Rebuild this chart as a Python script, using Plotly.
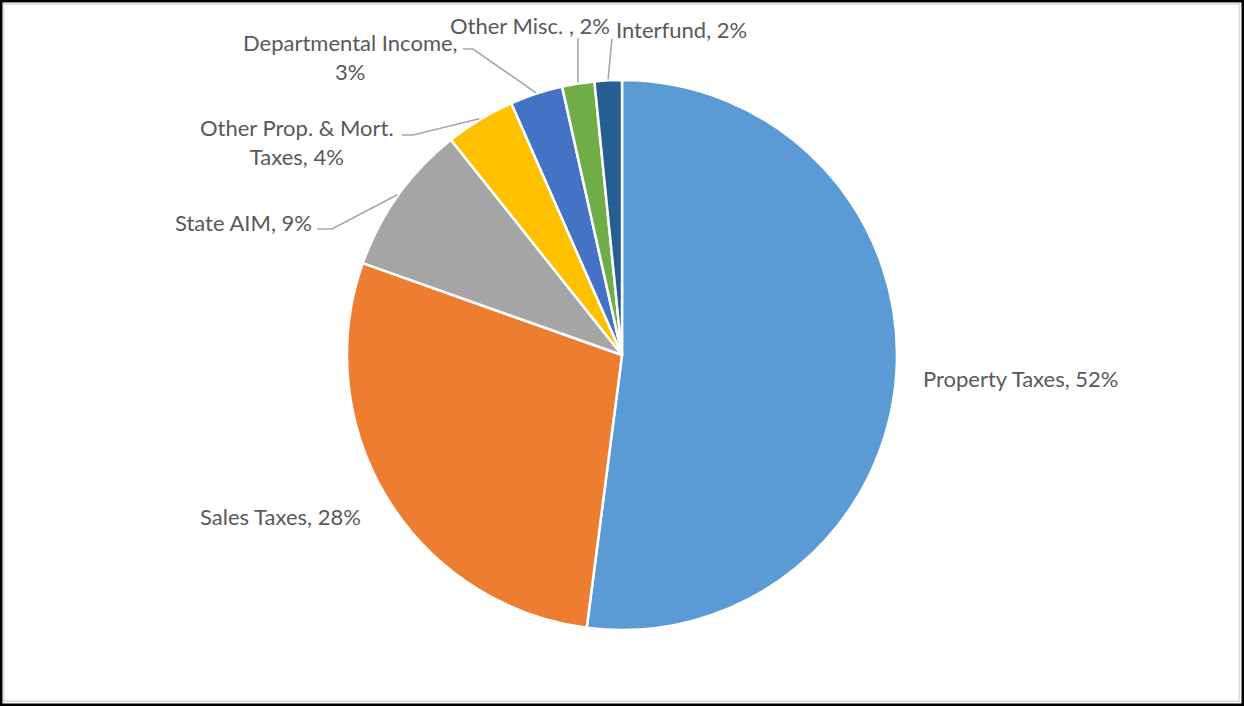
import math
import plotly.graph_objects as go

# Revenue sources, clockwise from 12 o'clock
categories = [
    "Property Taxes",
    "Sales Taxes",
    "State AIM",
    "Other Prop. & Mort. Taxes",
    "Departmental Income",
    "Other Misc. ",
    "Interfund",
]
shares = [52.1, 28.4, 8.9, 4.1, 3.1, 1.9, 1.6]
slice_colors = ["#5B9BD5", "#ED7D31", "#A5A5A5", "#FFC000", "#4472C4", "#70AD47", "#255E91"]

# ---- canvas / pie geometry (pixels) ----
W, H = 1244, 706
CX, CY, R = 622, 355, 275

TEXT_COLOR = "#595959"
LEADER_COLOR = "#A6A6A6"
FONT = dict(family="Lato, 'Open Sans', sans-serif", size=22, color=TEXT_COLOR)

# Label placement: anchor point, alignment, optional line break, and the
# elbow points of the leader line (the pie end is derived from the data).
label_place = {
    "Property Taxes": dict(x=921, y=378, xanchor="left"),
    "Sales Taxes": dict(x=363, y=516, xanchor="right"),
    "State AIM": dict(x=314, y=222, xanchor="right",
                      leader=[(317, 229), (332, 229)]),
    "Other Prop. & Mort. Taxes": dict(x=297, y=142, xanchor="center",
                                      wrap="Other Prop. & Mort.<br>Taxes",
                                      leader=[(402, 135), (413, 135)]),
    "Departmental Income": dict(x=350, y=57, xanchor="center", break_value=True,
                                leader=[(463, 49), (473, 49)]),
    "Other Misc. ": dict(x=612, y=25, xanchor="right",
                         leader=[(578, 38)]),
    "Interfund": dict(x=614, y=29, xanchor="left",
                      leader=[(612, 39)]),
}

total = sum(shares)

fig = go.Figure()

# invisible pixel-space axes used for labels, leaders and the frame
fig.add_trace(go.Scatter(x=[0, W], y=[0, H], mode="markers",
                         marker=dict(opacity=0), hoverinfo="skip", showlegend=False))

fig.add_trace(go.Pie(
    labels=categories,
    values=shares,
    sort=False,
    direction="clockwise",
    rotation=0,
    textinfo="none",
    hoverinfo="label+percent",
    showlegend=False,
    marker=dict(colors=slice_colors, line=dict(color="white", width=2.5)),
    domain=dict(x=[(CX - R) / W, (CX + R) / W],
                y=[(H - CY - R) / H, (H - CY + R) / H]),
))

shapes = []
annotations = []
cum = 0.0
for cat, v in zip(categories, shares):
    mid = (cum + v / 2) / total
    cum += v
    theta = 2 * math.pi * mid
    edge = (CX + (R + 1) * math.sin(theta), CY - (R + 1) * math.cos(theta))
    pct = round(v / total * 100)
    spec = label_place[cat]
    name = spec.get("wrap", cat)
    sep = ",<br>" if spec.get("break_value") else ", "
    text = f"{name}{sep}{pct}%"
    annotations.append(dict(
        x=spec["x"], y=spec["y"], xref="x", yref="y",
        text=text, showarrow=False, xanchor=spec["xanchor"], yanchor="middle",
        align="center", font=FONT,
    ))
    if "leader" in spec:
        pts = spec["leader"] + [edge]
        path = "M " + " L ".join(f"{px:.1f},{py:.1f}" for px, py in pts)
        shapes.append(dict(type="path", path=path, xref="x", yref="y",
                           line=dict(color=LEADER_COLOR, width=1.6), layer="above"))

# outer frame: dark border with a light inner edge
shapes.append(dict(type="rect", xref="x", yref="y", x0=1.25, y0=1.25, x1=W - 1.25, y1=H - 1.25,
                   line=dict(color="#000000", width=2.5), layer="above"))
shapes.append(dict(type="rect", xref="x", yref="y", x0=3.6, y0=3.6, x1=W - 4.6, y1=H - 4.6,
                   line=dict(color="#D9D9D9", width=1.6), layer="above"))

fig.update_layout(
    width=W, height=H,
    margin=dict(l=0, r=0, t=0, b=0),
    paper_bgcolor="white", plot_bgcolor="white",
    xaxis=dict(range=[0, W], visible=False, fixedrange=True),
    yaxis=dict(range=[H, 0], visible=False, fixedrange=True),
    shapes=shapes,
    annotations=annotations,
    font=FONT,
)

fig.write_html("out.html")
